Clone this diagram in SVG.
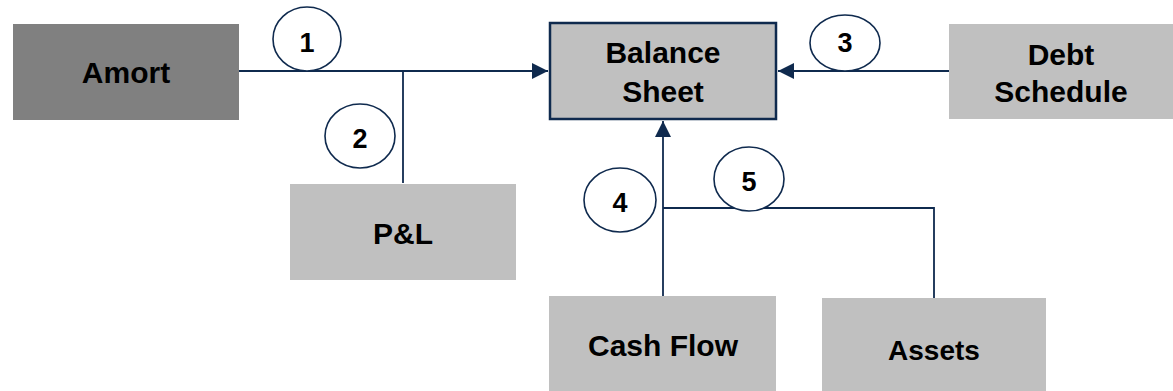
<svg xmlns="http://www.w3.org/2000/svg" width="1173" height="391" viewBox="0 0 1173 391">
<style>
.box{fill:#c0c0c0}
.dark{fill:#808080}
.bs{fill:#c0c0c0;stroke:#0f2a4e;stroke-width:2.5}
.lbl{font-family:"Liberation Sans",Arial,sans-serif;font-weight:bold;font-size:30px;fill:#000;text-anchor:middle}
.num{font-family:"Liberation Sans",Arial,sans-serif;font-weight:bold;font-size:27px;fill:#000;text-anchor:middle}
.conn{fill:none;stroke:#0f2a4e;stroke-width:1.8}
.badge{fill:#fff;stroke:#0f2a4e;stroke-width:1.6}
</style>
<defs>
<marker id="ah" markerUnits="userSpaceOnUse" markerWidth="18" markerHeight="18" refX="16" refY="8" orient="auto">
<path d="M0,0 L16,8 L0,16 Z" fill="#0f2a4e"/>
</marker>
</defs>
<rect width="1173" height="391" fill="#fff"/>
<g id="connectors">
<path class="conn" d="M238,71 H548" marker-end="url(#ah)"/>
<path class="conn" d="M403,183 V71"/>
<path class="conn" d="M949,71 H778" marker-end="url(#ah)"/>
<path class="conn" d="M663,296 V121" marker-end="url(#ah)"/>
<path class="conn" d="M663,208 H934 V298"/>
</g>
<g id="amort"><rect class="dark" x="13" y="24" width="226" height="96"/><text class="lbl" x="126" y="83">Amort</text></g>
<g id="balance-sheet"><rect class="bs" x="550" y="23" width="226" height="96"/><text class="lbl" x="663" y="63">Balance</text><text class="lbl" x="663" y="102">Sheet</text></g>
<g id="debt-schedule"><rect class="box" x="949" y="24" width="224" height="95"/><text class="lbl" x="1061" y="65">Debt</text><text class="lbl" x="1061" y="102">Schedule</text></g>
<g id="pl"><rect class="box" x="290" y="184" width="226" height="96"/><text class="lbl" x="403" y="244">P&amp;L</text></g>
<g id="cash-flow"><rect class="box" x="549" y="296" width="227" height="95"/><text class="lbl" x="663" y="356">Cash Flow</text></g>
<g id="assets"><rect class="box" x="822" y="298" width="224" height="93"/><text class="lbl" x="934" y="360" style="font-size:28px">Assets</text></g>
<g id="badge-1"><ellipse class="badge" cx="307" cy="39" rx="34" ry="32"/><text class="num" x="307" y="52">1</text></g>
<g id="badge-2"><ellipse class="badge" cx="360" cy="136" rx="35" ry="32"/><text class="num" x="360" y="148">2</text></g>
<g id="badge-3"><ellipse class="badge" cx="845" cy="43" rx="35" ry="28"/><text class="num" x="845" y="52">3</text></g>
<g id="badge-4"><ellipse class="badge" cx="620" cy="200" rx="36" ry="32"/><text class="num" x="620" y="212">4</text></g>
<g id="badge-5"><ellipse class="badge" cx="749" cy="179" rx="35" ry="32"/><text class="num" x="749" y="191">5</text></g>
</svg>
